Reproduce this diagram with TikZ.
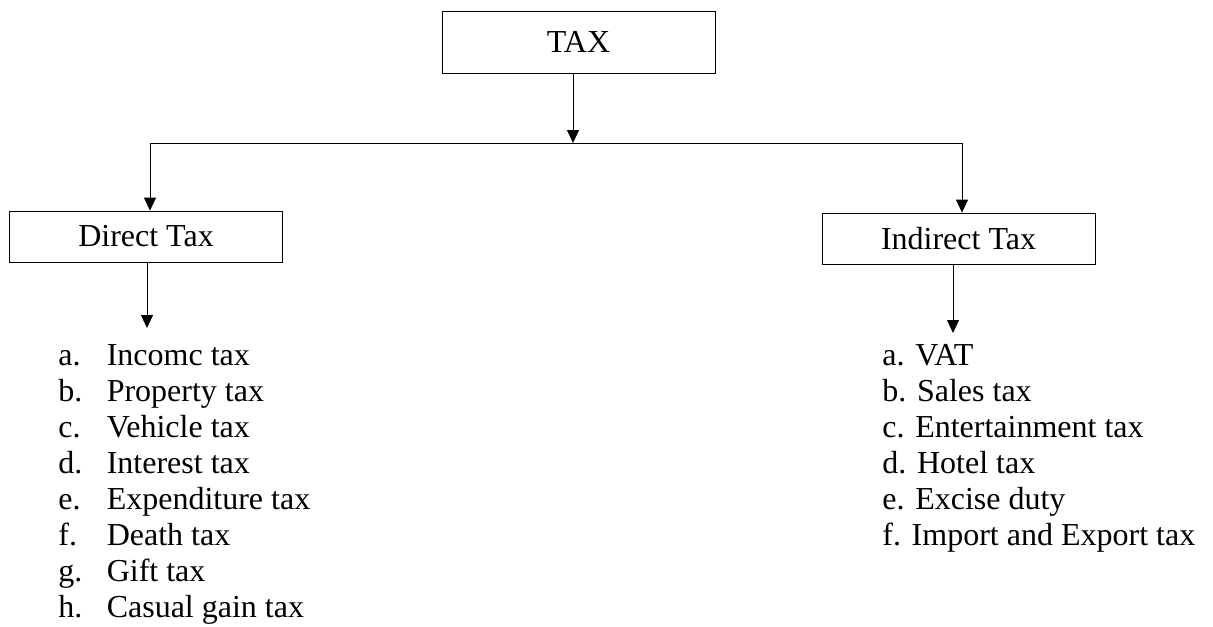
\documentclass[tikz,border=0pt]{standalone}
\usepackage{fontspec}
\setmainfont{Liberation Serif}
\usetikzlibrary{positioning, arrows.meta}
\tikzset{
    >={Stealth[length=6.5pt, width=6pt, inset=0pt]},  % filled triangle heads
    line width=1pt,                                  % thickness of boxes and lines
    box/.style={draw, minimum width=136.5pt, minimum height=25.5pt, inner sep=0pt}, % one class of tax
    list/.style={anchor=base west, inner sep=0pt},   % the lettered lists under the boxes
}

\begin{document}
\begin{tikzpicture}[x=0.5pt, y=-0.5pt, font=\fontsize{16}{18}\selectfont]
\useasboundingbox (0,0) rectangle (1213,626);

\node[box, minimum height=31pt] (tax) at (578.5,42) {TAX};
\node[box] (direct) at (146,236.5) {Direct Tax};
\node[box] (indirect) at (958.5,238.5) {Indirect Tax};

\node[list] (directlist) at (58,365) {\begin{tabular}[t]{@{}p{24.2pt}@{}l@{}}
a. & Incomc tax\\
b. & Property tax\\
c. & Vehicle tax\\
d. & Interest tax\\
e. & Expenditure tax\\
f. & Death tax\\
g. & Gift tax\\
h. & Casual gain tax
\end{tabular}};
\node[list] (indirectlist) at (882,365) {\begin{tabular}[t]{@{}l@{}}
a. VAT\\
b. Sales tax\\
c. Entertainment tax\\
d. Hotel tax\\
e. Excise duty\\
f. Import and Export tax
\end{tabular}};

\coordinate (split) at (573,143);
\coordinate (left) at (150,143);
\coordinate (right) at (962,143);
\coordinate (directend) at (147,328);
\coordinate (indirectend) at (953,333);

\draw[->] (split |- tax.south) -- (split);
\draw (left) -- (right);
\draw[->] (left) -- (left |- direct.north);
\draw[->] (right) -- (right |- indirect.north);
\draw[->] (directend |- direct.south) -- (directend);
\draw[->] (indirectend |- indirect.south) -- (indirectend);

\end{tikzpicture}
\end{document}
